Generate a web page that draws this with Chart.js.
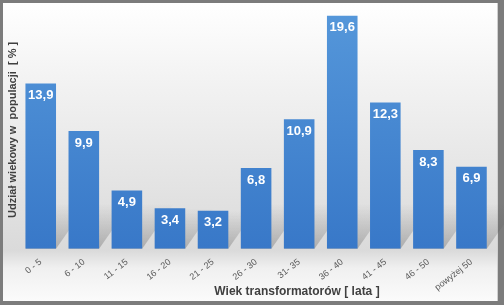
<!DOCTYPE html>
<html>
<head>
<meta charset="utf-8">
<script src="https://cdn.jsdelivr.net/npm/chart.js@4"></script>
<style>
	html, body { margin: 0; padding: 0; }
	#frame {
		position: relative;
		width: 504px;
		height: 305px;
		background: #7c7c7c;
		overflow: hidden;
	}
	#panel {
		position: absolute;
		left: 3px;
		top: 3px;
		width: 494px;
		height: 298px;
		background: linear-gradient(to bottom, #ffffff 0%, #f3f3f3 25%, #e6e6e6 55%, #dadada 83%, #f0f0f0 89%, #fbfbfb 100%);
		border-right: 1px solid #d0d0d0;
	}
	#chart { position: absolute; left: 0; top: 0; }
</style>
</head>
<body>
<div id="frame">
	<div id="panel"></div>
	<canvas id="chart" width="504" height="305"></canvas>
</div>
<script>
const categories = ["0 - 5", "6 - 10", "11 - 15", "16 - 20", "21 - 25", "26 - 30", "31- 35", "36 - 40", "41 - 45", "46 - 50", "powyżej 50"];
const shares = [13.9, 9.9, 4.9, 3.4, 3.2, 6.8, 10.9, 19.6, 12.3, 8.3, 6.9];
const yTitle = "Udział wiekowy w  populacji  [ % ]";
const xTitle = "Wiek transformatorów [ lata ]";

const font = "'Liberation Sans', Arial, sans-serif";

// soft floor shadow behind each bar
const barShadows = {
	id: "barShadows",
	beforeDatasetsDraw(chart) {
		const ctx = chart.ctx;
		const meta = chart.getDatasetMeta(0);
		ctx.save();
		meta.data.forEach(function (bar) {
			const half = bar.width / 2;
			const base = bar.base;
			const rise = Math.min(45, base - bar.y);
			const g = ctx.createLinearGradient(0, base, 0, base - rise);
			g.addColorStop(0, "rgba(90,90,90,0.35)");
			g.addColorStop(1, "rgba(90,90,90,0)");
			ctx.fillStyle = g;
			ctx.beginPath();
			ctx.moveTo(bar.x - half, base);
			ctx.lineTo(bar.x + half, base);
			ctx.lineTo(bar.x + half + rise * 0.7, base - rise);
			ctx.lineTo(bar.x - half + rise * 0.7, base - rise);
			ctx.closePath();
			ctx.fill();
		});
		ctx.restore();
	}
};

// value labels inside the top of each bar
const valueLabels = {
	id: "valueLabels",
	afterDatasetsDraw(chart) {
		const ctx = chart.ctx;
		const meta = chart.getDatasetMeta(0);
		ctx.save();
		ctx.fillStyle = "#ffffff";
		ctx.font = "bold 13px " + font;
		ctx.textAlign = "center";
		ctx.textBaseline = "middle";
		meta.data.forEach(function (bar, i) {
			ctx.fillText(shares[i].toFixed(1).replace(".", ","), bar.x, bar.y + 12);
		});
		ctx.restore();
	}
};

// x title sits right of the plot centre in the original
const xAxisTitle = {
	id: "xAxisTitle",
	afterDraw(chart) {
		const ctx = chart.ctx;
		ctx.save();
		ctx.fillStyle = "#404040";
		ctx.font = "bold 12px " + font;
		ctx.textAlign = "center";
		ctx.textBaseline = "middle";
		ctx.fillText(xTitle, 297, 292);
		ctx.restore();
	}
};

const canvas = document.getElementById("chart");

new Chart(canvas, {
	type: "bar",
	data: {
		labels: categories,
		datasets: [{
			data: shares,
			backgroundColor: function (c) {
				const area = c.chart.chartArea;
				if (!area) return "#4a8ad4";
				const g = c.chart.ctx.createLinearGradient(0, area.top, 0, area.bottom);
				g.addColorStop(0, "#5597da");
				g.addColorStop(1, "#3878c8");
				return g;
			},
			borderWidth: 0,
			barPercentage: 0.71,
			categoryPercentage: 1
		}]
	},
	options: {
		responsive: false,
		animation: false,
		layout: { padding: { left: 4, right: 11, top: 11, bottom: 4 } },
		plugins: {
			legend: { display: false },
			tooltip: { enabled: false }
		},
		scales: {
			x: {
				grid: { display: false, drawTicks: false },
				border: { display: false },
				afterFit: function (scale) {
					scale.paddingLeft = 0;
					scale.paddingRight = 0;
				},
				ticks: {
					color: "#595959",
					font: { family: font, size: 9 },
					minRotation: 38,
					maxRotation: 38,
					padding: 8
				}
			},
			y: {
				min: 0,
				max: 20,
				grid: { display: false, drawTicks: false },
				border: { display: false },
				ticks: { display: false },
				title: {
					display: true,
					text: yTitle,
					color: "#404040",
					font: { family: font, size: 11, weight: "bold" },
					padding: { top: 2, bottom: 0 }
				}
			}
		}
	},
	plugins: [barShadows, valueLabels, xAxisTitle]
});
</script>
</body>
</html>
